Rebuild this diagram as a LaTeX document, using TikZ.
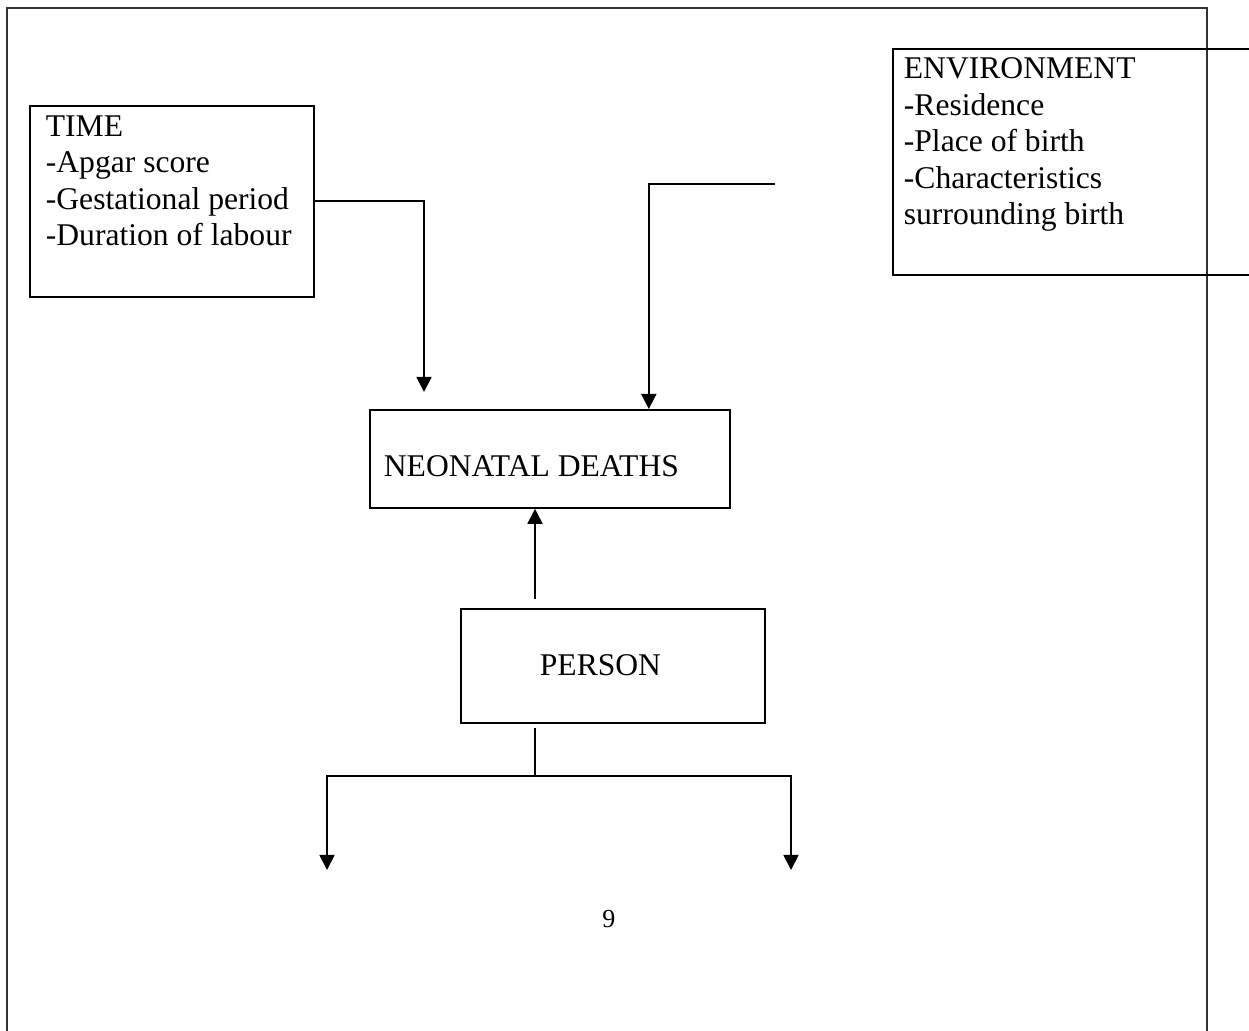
\documentclass[tikz,border=0pt]{standalone}
\usepackage{fontspec}
\setmainfont{Liberation Serif}
\usepackage{tikz}
\usetikzlibrary{arrows.meta}

\tikzset{
    box/.style={draw, line width=0.9pt, inner sep=0pt},
    boxtext/.style={inner sep=0pt, align=left}
}

\begin{document}
\begin{tikzpicture}[x=0.5pt,y=-0.5pt,line width=0.9pt,
    font=\fontsize{15.8}{18.2}\selectfont,
    >={Triangle[length=7.5pt,width=7.5pt]}]

\useasboundingbox (0,0) rectangle (1249,1031);
\clip (0,0) rectangle (1249,1031);

% page frame
\draw[line width=0.6pt,black!80] (7,1040) -- (7,8) -- (1207,8) -- (1207,1040);

\node[box,
    anchor=north west,
    minimum width=142pt,
    minimum height=95.5pt
] (time) at (29,105) {};
\node[boxtext, anchor=north west] (timetext) at (45,115)
    { TIME\\-Apgar score\\-Gestational period\\-Duration of labour };

\node[box,
    anchor=north west,
    minimum width=204pt,
    minimum height=113pt
] (environment) at (892,48) {};
\node[boxtext, anchor=north west] (envtext) at (903,57)
    { ENVIRONMENT\\-Residence\\-Place of birth\\-Characteristics\\surrounding birth };

\node[box,
    anchor=north west,
    minimum width=180pt,
    minimum height=49pt
] (neonatal) at (369,409) {};
\node[boxtext, anchor=base west] (neonataltext) at (383,477) { NEONATAL DEATHS };

\node[box,
    anchor=north west,
    minimum width=152pt,
    minimum height=57pt
] (person) at (460,608) {};
\node[boxtext, anchor=base west] (persontext) at (539,676) { PERSON };

\node[boxtext, anchor=base, font=\fontsize{13}{15}\selectfont] (pagenum) at (612,928) { 9 };

\coordinate (timeend) at (424,392);
\coordinate (envstart) at (775,184);
\coordinate (personup) at (535,599);
\coordinate (persondown) at (535,728);
\coordinate (split) at (535,776);
\coordinate (leftend) at (327,870);
\coordinate (rightend) at (791,870);

\draw[->] (time.east) -| (timeend);
\draw[->] (envstart) -| ([xshift=-41pt]neonatal.north east);
\draw[->] (personup) -- (personup |- neonatal.south);

\draw[line width=0.6pt] (persondown) -- (split);
\draw[->] (split) -| (leftend);
\draw[->] (split) -| (rightend);

\end{tikzpicture}
\end{document}
